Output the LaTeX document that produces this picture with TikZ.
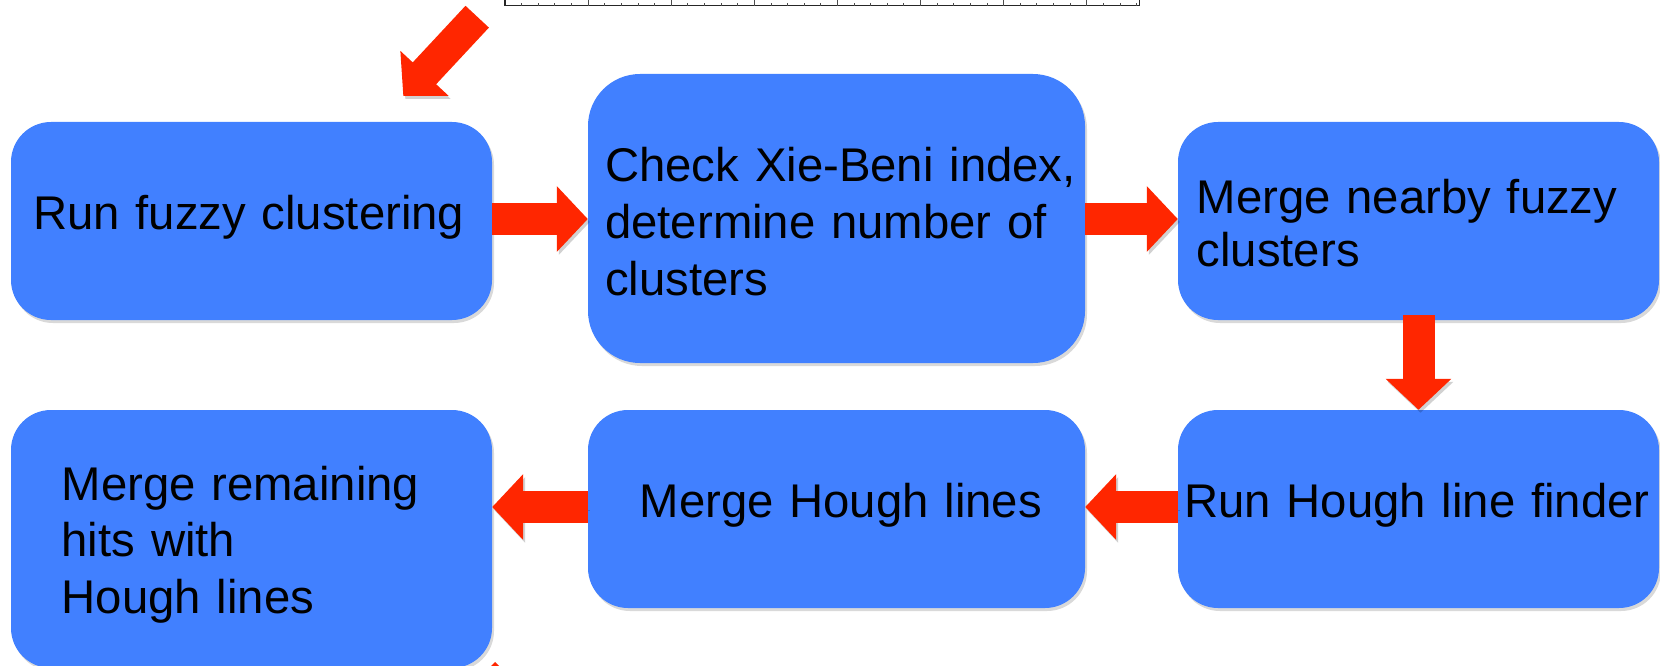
\documentclass[tikz,border=0pt]{standalone}
\usepackage{fontspec}
\setmainfont{Liberation Sans}
\usetikzlibrary{arrows.meta,shadows}
\definecolor{boxblue}{RGB}{65,128,255}
\definecolor{arrred}{RGB}{255,38,0}
\begin{document}
\begin{tikzpicture}[x=1pt,y=-1pt,
  box/.style={rectangle, fill=boxblue, draw=none, inner sep=0pt, rounded corners=40pt,
    drop shadow={opacity=0.3, shadow xshift=2pt, shadow yshift=-3pt}},
  txt/.style={anchor=base west, inner sep=0pt, text width=480pt, align=left,
    font=\fontsize{47.3}{57}\selectfont},
  barrow/.style={draw=arrred, line width=32pt, -{Triangle[width=64pt,length=31pt]},
    preaction={draw=black, draw opacity=0.18, fill opacity=0.18, transform canvas={xshift=2pt,yshift=-3pt}}},
  axisline/.style={draw=black!85, line width=1.2pt},
  tick/.style={draw=black!70, line width=0.8pt}
]
\useasboundingbox (0,0) rectangle (1660,666);
\clip (0,0) rectangle (1660,666);

% partial plot frame at the top
\draw[axisline] (505,-3) -- (505,5.7) -- (1139.5,5.7) -- (1139.5,-3);
\foreach \i in {1,...,38} {
  \pgfmathsetmacro{\xx}{505+16.62*\i}
  \pgfmathtruncatemacro{\mm}{mod(\i,5)}
  \ifnum\mm=0
    \draw[tick] (\xx,5.7) -- (\xx,0);
  \else
    \draw[tick] (\xx,5.7) -- (\xx,2.7);
  \fi
}

% boxes
\node[box, minimum width=481pt, minimum height=198pt] (b1) at (251.5,221) {};
\node[box, minimum width=497pt, minimum height=289pt, rounded corners=52pt] (b2) at (836.5,218.5) {};
\node[box, minimum width=481pt, minimum height=198pt] (b3) at (1418.5,221) {};
\node[box, minimum width=481pt, minimum height=198pt] (b4) at (1418.5,509) {};
\node[box, minimum width=497pt, minimum height=198pt] (b5) at (836.5,509) {};
\node[box, minimum width=481pt, minimum height=258pt] (b6) at (251.5,539) {};

% texts
\node[txt] (t1) at (33,229) {Run fuzzy clustering};
\node[txt] (t2) at (605,181.7) {Check Xie-Beni index,\\determine number of\\clusters};
\node[txt, font=\fontsize{47.3}{53.5}\selectfont] (t3) at (1196.5,213.3) {Merge nearby fuzzy\\clusters};
\node[txt] (t4) at (1184,517.3) {Run Hough line finder};
\node[txt] (t5) at (639.5,517.3) {Merge Hough lines};
\node[txt, font=\fontsize{47.3}{56.7}\selectfont] (t6) at (61.5,500) {Merge remaining\\hits with\\Hough lines};

% connectors
\coordinate (ya) at (0,219);
\coordinate (yb) at (0,507);
\draw[barrow] (b1.east |- ya) -- (b2.west |- ya);
\draw[barrow] (b2.east |- ya) -- (b3.west |- ya);
\draw[barrow] ([yshift=5pt]b3.south) -- (b4.north);
\draw[barrow] (b4.west |- yb) -- (b5.east |- yb);
\draw[barrow] (b5.west |- yb) -- (b6.east |- yb);

% incoming arrow at the top left
\coordinate (ta) at (477.2,16.7);
\coordinate (tb) at (403.3,96);
\draw[barrow] (ta) -- (tb);

% outgoing arrow at the bottom, cut off by the edge
\coordinate (bt) at (483.7,673.3);
\draw[draw=arrred, line width=32pt] (bt) -- ++(40,40);
\end{tikzpicture}
\end{document}
